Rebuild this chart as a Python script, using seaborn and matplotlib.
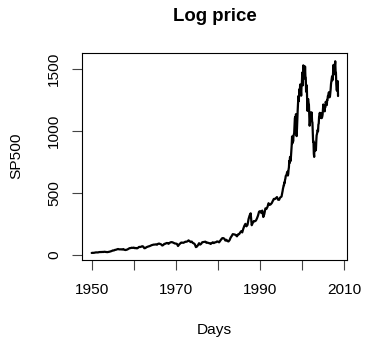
import numpy as np
import pandas as pd
import matplotlib
matplotlib.use("Agg")
import matplotlib.pyplot as plt
import seaborn as sns

# Quarterly levels 1950-1994 (start of each quarter)
quarterly_values = [
    16.8, 17.8, 17.7, 19.5,
    21.2, 21.5, 21.0, 23.3,
    24.1, 24.0, 24.9, 24.5,
    26.4, 25.0, 24.1, 23.4,
    24.8, 26.9, 29.2, 32.3,
    36.8, 36.6, 41.0, 42.4,
    45.2, 48.5, 46.0, 45.4,
    46.2, 44.1, 48.0, 42.5,
    40.3, 42.1, 45.2, 50.0,
    55.4, 56.0, 58.9, 57.5,
    59.9, 55.0, 56.9, 53.4,
    58.0, 65.6, 64.6, 67.0,
    71.1, 68.0, 54.8, 56.3,
    63.1, 66.6, 69.4, 71.7,
    75.4, 79.5, 81.7, 84.1,
    84.2, 86.0, 83.0, 89.9,
    92.4, 89.2, 85.6, 76.6,
    80.3, 90.2, 90.6, 96.7,
    96.5, 90.2, 98.0, 102.7,
    103.9, 101.5, 97.7, 93.1,
    92.1, 89.6, 72.7, 84.3,
    92.2, 100.3, 99.8, 98.3,
    102.1, 107.2, 107.1, 110.5,
    118.1, 111.5, 104.3, 108.4,
    97.6, 93.9, 86.0, 63.5,
    68.6, 80.1, 95.2, 83.9,
    90.2, 102.8, 104.3, 105.2,
    107.5, 98.4, 100.5, 96.5,
    95.1, 89.2, 95.5, 102.5,
    96.1, 101.6, 102.9, 109.3,
    107.9, 102.1, 114.2, 125.5,
    135.8, 136.0, 131.2, 116.2,
    122.6, 112.0, 109.6, 120.4,
    140.6, 152.9, 168.1, 166.1,
    164.9, 159.2, 150.7, 166.1,
    167.2, 180.7, 191.9, 182.1,
    211.3, 235.0, 250.8, 231.3,
    242.2, 289.3, 318.0, 336.0,
    240.0, 258.9, 273.5, 271.9,
    277.7, 294.9, 318.0, 349.2,
    353.4, 339.9, 358.0, 306.1,
    330.2, 375.2, 371.2, 387.9,
    417.1, 403.7, 408.1, 417.8,
    435.7, 451.7, 450.5, 458.9,
    466.5, 445.8, 444.3, 462.7,
]

# Monthly levels Jan 1995 - Jun 2008
monthly_values = [
    470.4, 487.4, 500.7, 514.7, 533.4, 544.8, 562.1, 561.9, 584.4, 581.5, 605.4, 615.9,
    636.0, 640.4, 645.5, 654.2, 669.1, 670.6, 640.0, 652.0, 687.3, 705.3, 757.0, 740.7,
    786.2, 790.8, 757.1, 801.3, 848.3, 885.1, 954.3, 899.5, 947.3, 914.6, 955.4, 970.4,
    980.3, 1049.3, 1101.8, 1111.8, 1090.8, 1133.8, 1120.7, 957.3, 1017.0, 1098.7, 1163.6, 1229.2,
    1279.6, 1238.3, 1286.4, 1335.2, 1301.8, 1372.7, 1328.7, 1320.4, 1282.7, 1362.9, 1388.9, 1469.3,
    1394.5, 1366.4, 1527.0, 1452.4, 1420.6, 1454.6, 1430.8, 1517.7, 1436.5, 1429.4, 1315.2, 1320.3,
    1366.0, 1239.9, 1160.3, 1249.5, 1255.8, 1224.4, 1211.2, 1133.6, 1040.9, 1059.8, 1139.5, 1148.1,
    1130.2, 1106.7, 1147.4, 1076.9, 1067.1, 989.8, 911.6, 916.1, 815.3, 790.0, 900.0, 879.8,
    855.7, 841.2, 848.2, 916.9, 963.6, 974.5, 990.3, 1008.0, 996.0, 1050.7, 1058.2, 1111.9,
    1131.1, 1144.9, 1126.2, 1107.3, 1120.7, 1140.8, 1101.7, 1104.2, 1114.6, 1130.2, 1173.8, 1211.9,
    1181.3, 1203.6, 1180.6, 1156.9, 1191.5, 1191.3, 1234.2, 1220.3, 1228.8, 1207.0, 1249.5, 1248.3,
    1280.1, 1280.7, 1294.8, 1310.6, 1270.1, 1270.2, 1276.7, 1303.8, 1335.9, 1377.9, 1400.6, 1418.3,
    1438.2, 1406.8, 1420.9, 1482.4, 1530.6, 1503.4, 1455.3, 1474.0, 1526.8, 1560.0, 1481.1, 1468.4,
    1378.6, 1330.6, 1322.7, 1385.6, 1400.4, 1280.0,
]

x_ticks = [1950, 1960, 1970, 1980, 1990, 2000, 2010]
x_tick_labels = ["1950", "", "1970", "", "1990", "", "2010"]
y_ticks = [0, 500, 1000, 1500]
y_tick_labels = ["0", "500", "1000", "1500"]

q_years = 1950 + 0.25 * np.arange(len(quarterly_values))
m_years = 1995 + (np.arange(len(monthly_values)) + 1) / 12.0
df = pd.DataFrame({
    "year": np.concatenate([q_years, m_years]),
    "price": np.concatenate([quarterly_values, monthly_values]),
})

sns.set_theme(style="white")
plt.rcParams["font.family"] = ["Liberation Sans", "DejaVu Sans"]
plt.rcParams["text.color"] = "black"
plt.rcParams["axes.labelcolor"] = "black"

W, H = 365, 338
fig = plt.figure(figsize=(W / 100, H / 100), dpi=100)
ax = fig.add_axes([82.3 / W, 1 - 260 / H, 265 / W, 206.7 / H])

sns.lineplot(data=df, x="year", y="price", ax=ax, color="black",
             linewidth=1.6, estimator=None, sort=False)

ax.set_xlim(1947.77, 2010.7)
ax.set_ylim(-40, 1624)

ax.set_xticks(x_ticks)
ax.set_xticklabels(x_tick_labels)
ax.set_yticks(y_ticks)
ax.set_yticklabels(y_tick_labels, rotation=90, va="center")

ax.tick_params(axis="both", which="major", direction="out", length=7.2,
               width=0.8, color="#444444", labelsize=11.1, labelcolor="black",
               bottom=True, left=True)
ax.tick_params(axis="x", pad=9.4)
ax.tick_params(axis="y", pad=8.0)

for s in ax.spines.values():
    s.set_visible(True)
    s.set_color("black")
    s.set_linewidth(0.8)

ax.set_xlabel("")
ax.set_ylabel("")
ax.grid(False)

fig.text(214.8 / W, 1 - 20.7 / H, "Log price", ha="center", va="baseline",
         fontsize=13.4, fontweight="bold", color="black")
fig.text(214.8 / W, 1 - 334.3 / H, "Days", ha="center", va="baseline",
         fontsize=11.1, color="black")
fig.text(16.0 / W, 1 - 155.5 / H, "SP500", ha="center", va="center",
         rotation=90, fontsize=11.1, color="black")

fig.savefig("out.png", dpi=100, facecolor="white")
